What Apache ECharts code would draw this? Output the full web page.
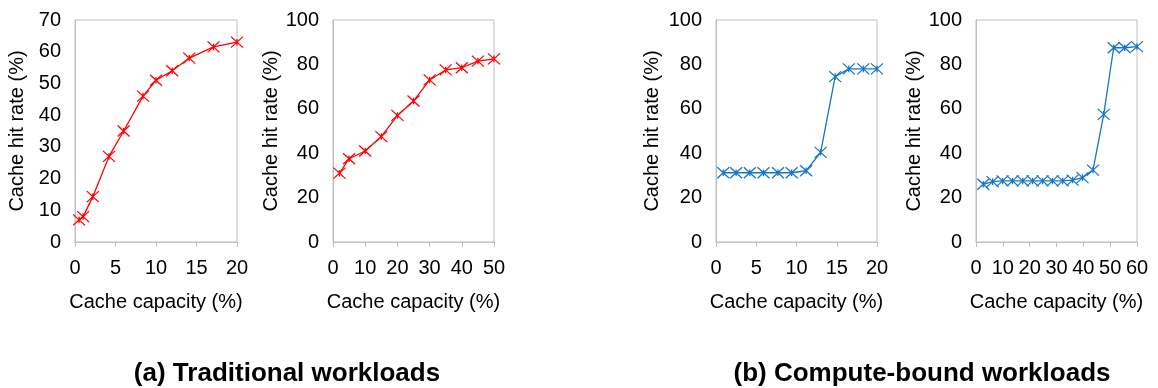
<!DOCTYPE html>
<html>
<head>
<meta charset="utf-8">
<script src="https://cdn.jsdelivr.net/npm/echarts@6/dist/echarts.min.js"></script>
<style>
html,body{margin:0;padding:0;background:#fff;}
#chart{width:1158px;height:388px;}
</style>
</head>
<body>
<div id="chart"></div>
<script>
// Panel (a) left: traditional workloads, capacity 0-20
const capA1 = [0.5, 1.0, 2.2, 4.2, 6.0, 8.4, 10.0, 12.0, 14.1, 17.1, 20.0];
const hitA1 = [7, 8, 14.3, 27, 35, 46, 51, 54, 58, 61.5, 63];
// Panel (a) right: capacity 0-50
const capA2 = [2, 5, 10, 15, 20, 25, 30, 35, 40, 45, 50];
const hitA2 = [31, 37.5, 41, 47.5, 57, 63.5, 73, 77.5, 78.5, 81.5, 82.5];
// Panel (b) left: compute-bound, capacity 0-20
const capB1 = [0.9, 2.5, 4.2, 5.9, 7.7, 9.4, 11.2, 13.0, 14.8, 16.5, 18.3, 20.0];
const hitB1 = [31.2, 31.2, 31.2, 31.2, 31.2, 31.2, 32.1, 40.4, 74.5, 78, 78, 78];
// Panel (b) right: capacity 0-60
const capB2 = [2.7, 6.2, 9.9, 13.6, 17.4, 21.1, 24.8, 28.5, 32.3, 36.0, 39.7, 43.6, 47.6, 51.3, 55.4, 60.0];
const hitB2 = [26, 27.2, 27.5, 27.5, 27.5, 27.5, 27.5, 27.5, 27.5, 27.9, 29, 32.4, 57.5, 87.5, 87.5, 88];

const titles = ['(a) Traditional workloads', '(b) Compute-bound workloads'];
const xName = 'Cache capacity (%)';
const yName = 'Cache hit rate (%)';

const RED = '#ff0000';
const BLUE = '#1576c6';
const FONT = 'Liberation Sans, Arial, sans-serif';
const STAR = 'path://M0,0L10,10M10,0L0,10M5,2L5,8';

const panels = [
  {cap: capA1, hit: hitA1, xmax: 20, xint: 5, ymax: 70, yint: 10, color: RED, left: 75, yGap: 48},
  {cap: capA2, hit: hitA2, xmax: 50, xint: 10, ymax: 100, yint: 20, color: RED, left: 333, yGap: 48},
  {cap: capB1, hit: hitB1, xmax: 20, xint: 5, ymax: 100, yint: 20, color: BLUE, left: 716, yGap: 54},
  {cap: capB2, hit: hitB2, xmax: 60, xint: 10, ymax: 100, yint: 20, color: BLUE, left: 976, yGap: 50}
];
const widths = [162, 161, 161, 161];

const grid = [], xAxis = [], yAxis = [], series = [];
panels.forEach((p, i) => {
  grid.push({left: p.left, top: 20, width: widths[i], height: 222, show: true,
    borderColor: '#bfbfbf', borderWidth: 1, backgroundColor: 'transparent'});
  xAxis.push({
    type: 'value', gridIndex: i, min: 0, max: p.xmax, interval: p.xint,
    name: xName, nameLocation: 'middle', nameGap: 50,
    nameTextStyle: {fontFamily: FONT, fontSize: 20, color: '#000'},
    axisLine: {show: true, lineStyle: {color: '#bfbfbf', width: 1}},
    axisTick: {show: true, length: 5, lineStyle: {color: '#bfbfbf'}},
    axisLabel: {fontFamily: FONT, fontSize: 20, color: '#000', margin: 16},
    splitLine: {show: false}
  });
  yAxis.push({
    type: 'value', gridIndex: i, min: 0, max: p.ymax, interval: p.yint,
    name: yName, nameLocation: 'middle', nameRotate: 90, nameGap: p.yGap,
    nameTextStyle: {fontFamily: FONT, fontSize: 20, color: '#000'},
    axisLine: {show: true, lineStyle: {color: '#bfbfbf', width: 1}},
    axisTick: {show: false},
    axisLabel: {fontFamily: FONT, fontSize: 20, color: '#000', margin: 14},
    splitLine: {show: false}
  });
  series.push({
    type: 'line', xAxisIndex: i, yAxisIndex: i,
    data: p.cap.map((c, k) => [c, p.hit[k]]),
    symbol: STAR, symbolSize: [12, 11], showSymbol: true,
    lineStyle: {color: p.color, width: 1.3},
    itemStyle: {color: p.color, borderColor: p.color, borderWidth: 1.2},
    animation: false, silent: true
  });
});

const chart = echarts.init(document.getElementById('chart'), null, {renderer: 'canvas'});
chart.setOption({
  animation: false,
  backgroundColor: '#fff',
  grid, xAxis, yAxis, series,
  graphic: [
    {type: 'text', x: 287, y: 374, style: {text: titles[0], font: 'bold 26px ' + FONT, fill: '#000', align: 'center', verticalAlign: 'middle'}},
    {type: 'text', x: 922, y: 374, style: {text: titles[1], font: 'bold 26px ' + FONT, fill: '#000', align: 'center', verticalAlign: 'middle'}}
  ]
});
</script>
</body>
</html>
